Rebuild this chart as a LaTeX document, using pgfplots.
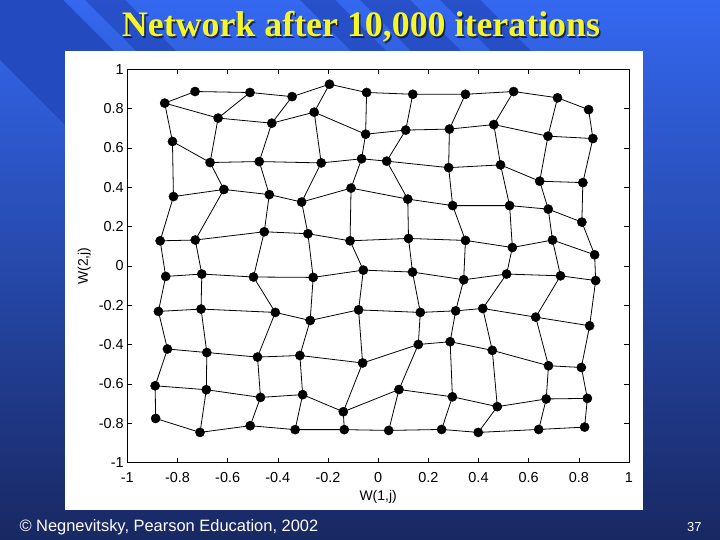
\documentclass[border=0pt]{standalone}
\usepackage{pgfplots}
\pgfplotsset{compat=1.18}
\usepackage{pgfplotstable}
\usepackage{fontspec}
\setmainfont{Liberation Sans}
\newfontfamily\titlefont{Liberation Serif}

\definecolor{slidetop}{RGB}{52,104,240}
\definecolor{slidemid}{RGB}{40,84,205}
\definecolor{slidebot}{RGB}{24,40,98}
\definecolor{stripe}{RGB}{36,74,192}
\definecolor{titleyellow}{RGB}{245,245,40}

% Kohonen map weights: r = row, c = column of the 10x10 lattice
\pgfplotstableread{
r c x y
1 1 -0.730 0.887
1 2 -0.511 0.882
1 3 -0.343 0.861
1 4 -0.194 0.924
1 5 -0.046 0.882
1 6 0.138 0.873
1 7 0.348 0.873
1 8 0.540 0.887
1 9 0.715 0.855
1 10 0.839 0.795
2 1 -0.851 0.828
2 2 -0.638 0.752
2 3 -0.424 0.726
2 4 -0.255 0.782
2 5 -0.050 0.670
2 6 0.110 0.691
2 7 0.284 0.696
2 8 0.461 0.719
2 9 0.677 0.660
2 10 0.856 0.648
3 1 -0.820 0.633
3 2 -0.670 0.526
3 3 -0.474 0.531
3 4 -0.227 0.524
3 5 -0.066 0.545
3 6 0.034 0.533
3 7 0.281 0.500
3 8 0.488 0.514
3 9 0.644 0.431
3 10 0.816 0.424
4 1 -0.816 0.353
4 2 -0.615 0.389
4 3 -0.434 0.363
4 4 -0.305 0.325
4 5 -0.108 0.396
4 6 0.118 0.340
4 7 0.297 0.307
4 8 0.524 0.307
4 9 0.678 0.289
4 10 0.812 0.223
5 1 -0.869 0.128
5 2 -0.729 0.132
5 3 -0.454 0.174
5 4 -0.280 0.164
5 5 -0.112 0.128
5 6 0.121 0.140
5 7 0.348 0.130
5 8 0.535 0.094
5 9 0.695 0.132
5 10 0.863 0.057
6 1 -0.847 -0.053
6 2 -0.703 -0.041
6 3 -0.497 -0.056
6 4 -0.259 -0.058
6 5 -0.059 -0.021
6 6 0.137 -0.031
6 7 0.341 -0.070
6 8 0.512 -0.041
6 9 0.727 -0.050
6 10 0.867 -0.074
7 1 -0.876 -0.231
7 2 -0.706 -0.219
7 3 -0.410 -0.236
7 4 -0.271 -0.277
7 5 -0.078 -0.223
7 6 0.168 -0.236
7 7 0.309 -0.228
7 8 0.417 -0.216
7 9 0.628 -0.260
7 10 0.843 -0.304
8 1 -0.840 -0.422
8 2 -0.683 -0.440
8 3 -0.481 -0.463
8 4 -0.312 -0.455
8 5 -0.062 -0.493
8 6 0.160 -0.399
8 7 0.287 -0.385
8 8 0.455 -0.429
8 9 0.679 -0.507
8 10 0.810 -0.516
9 1 -0.889 -0.609
9 2 -0.685 -0.629
9 3 -0.469 -0.668
9 4 -0.301 -0.654
9 5 -0.139 -0.741
9 6 0.083 -0.628
9 7 0.296 -0.665
9 8 0.475 -0.715
9 9 0.670 -0.676
9 10 0.834 -0.673
10 1 -0.887 -0.775
10 2 -0.710 -0.846
10 3 -0.510 -0.812
10 4 -0.331 -0.832
10 5 -0.135 -0.832
10 6 0.042 -0.836
10 7 0.253 -0.831
10 8 0.399 -0.846
10 9 0.640 -0.831
10 10 0.823 -0.819
}\grid
% same nodes, ordered column by column for the vertical links
\pgfplotstablecreatecol[expr={\thisrow{c}*100+\thisrow{r}}]{k}\grid
\pgfplotstablesort[sort key=k]\gridcol{\grid}

\begin{document}
\begin{tikzpicture}[x=1bp,y=1bp]
\useasboundingbox (0,0) rectangle (720,540);
% slide background
\shade[top color=slidetop, middle color=slidemid, bottom color=slidebot] (0,0) rectangle (720,540);
\begin{scope}
  \clip (0,0) rectangle (720,540);
  \fill[stripe] (-60,540) -- (63,540) -- (263,340) -- (140,340) -- cycle;
  \foreach \a/\b in {85/125,300/335,360/410,440/480}
    \fill[stripe, opacity=0.8] (\a,540) -- (\b,540) -- (\b+60,480) -- (\a+60,480) -- cycle;
\end{scope}
\fill[white] (65,30) rectangle (643,489);

% title with shadow
\node[anchor=base, text=black, opacity=0.6] at (362.5,501.5)
  {\titlefont\bfseries\fontsize{36}{40}\selectfont Network after 10,000 iterations};
\node[anchor=base, text=titleyellow] at (361,503)
  {\titlefont\bfseries\fontsize{36}{40}\selectfont Network after 10,000 iterations};

\begin{axis}[
    at={(127.3bp,77.3bp)}, anchor=south west,
    scale only axis,
    width=501.7bp, height=393.4bp,
    xmin=-1, xmax=1, ymin=-1, ymax=1,
    xtick={-1,-0.8,-0.6,-0.4,-0.2,0,0.2,0.4,0.6,0.8,1},
    xticklabels={-1,-0.8,-0.6,-0.4,-0.2,0,0.2,0.4,0.6,0.8,1},
    ytick={-1,-0.8,-0.6,-0.4,-0.2,0,0.2,0.4,0.6,0.8,1},
    yticklabels={-1,-0.8,-0.6,-0.4,-0.2,0,0.2,0.4,0.6,0.8,1},
    tick align=inside,
    major tick length=5bp,
    tick style={black, line width=0.6bp},
    axis line style={line width=0.9bp},
    ticklabel style={font=\fontsize{14.5}{16}\selectfont},
    xticklabel style={yshift=-6bp},
    xlabel={W(1,j)}, ylabel={W(2,j)},
    label style={font=\fontsize{14}{16}\selectfont},
    xlabel style={at={(axis description cs:0.5,-0.0865)}, anchor=center},
    ylabel style={at={(axis description cs:-0.0857,0.5)}, anchor=center},
  ]
  \pgfplotsinvokeforeach{1,...,10}{
    \addplot[black, line width=0.8bp, no markers,
      restrict expr to domain={\thisrow{r}}{#1:#1}] table[x=x, y=y] {\grid};
    \addplot[black, line width=0.8bp, no markers,
      restrict expr to domain={\thisrow{c}}{#1:#1}] table[x=x, y=y] {\gridcol};
  }
  \addplot[only marks, mark=*, mark size=4.6bp, black] table[x=x, y=y] {\grid};
\end{axis}

% footer
\node[anchor=base west, text=white, font=\fontsize{16.5}{18}\selectfont] at (16,8)
  {© Negnevitsky, Pearson Education, 2002};
\node[anchor=base east, text=white, font=\fontsize{13}{15}\selectfont] at (705,8) {37};
\end{tikzpicture}
\end{document}
